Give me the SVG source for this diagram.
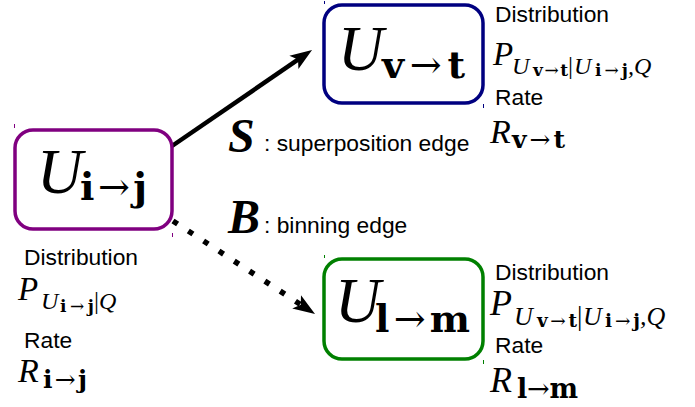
<svg xmlns="http://www.w3.org/2000/svg" width="695" height="407" viewBox="0 0 695 407">
<style>
.box{fill:#fff;stroke-width:3.5}
.mi{font-family:"Liberation Serif","Times New Roman",serif;font-style:italic;fill:#000}
.mb{font-family:"DejaVu Serif",serif;font-weight:bold;fill:#000}
.mr{font-family:"Liberation Serif","Times New Roman",serif;fill:#000}
.ar{font-weight:normal}
.lab{font-family:"Liberation Sans",Arial,sans-serif;font-size:22.8px;fill:#000}
.bi{font-family:"Liberation Serif","Times New Roman",serif;font-style:italic;font-weight:bold;font-size:48px;fill:#000}
.tick{stroke-width:1}
</style>
<defs>
<marker id="ah" viewBox="-10 -10 26 20" refX="0" refY="0" markerWidth="26" markerHeight="20" markerUnits="userSpaceOnUse" orient="auto">
<path d="M14,0 L-8,-8 L-3,0 L-8,8 Z" fill="#000"/>
</marker>
</defs>
<g id="connectors">
<line x1="172" y1="146" x2="300.5" y2="57.9" stroke="#000" stroke-width="4.5" marker-end="url(#ah)"/>
<line x1="173" y1="221" x2="303.3" y2="306.3" stroke="#000" stroke-width="5.5" stroke-dasharray="5.5 12.8" marker-end="url(#ah)"/>
<text class="bi" x="228" y="152">S</text>
<text class="lab" x="264" y="151">: superposition edge</text>
<text class="bi" x="228" y="233">B</text>
<text class="lab" x="264" y="233">: binning edge</text>
</g>
<g id="node-ij">
<rect class="box" x="15" y="130" width="157" height="99" rx="18" stroke="#800080"/>
<line class="tick" x1="14.5" y1="124" x2="14.5" y2="128" stroke="#800080"/>
<line class="tick" x1="172.5" y1="233" x2="172.5" y2="237" stroke="#800080"/>
<text class="mi" x="37" y="193" font-size="63">U</text>
<text class="mb" x="80" y="200" font-size="38" textLength="67" lengthAdjust="spacing">i<tspan class="ar">→</tspan>j</text>
<text class="lab" x="24" y="265">Distribution</text>
<text class="mi" x="18" y="300" font-size="33">P</text>
<text class="mi" x="41" y="309" font-size="24">U</text>
<text class="mb" x="60" y="312" font-size="17" textLength="34" lengthAdjust="spacing">i<tspan class="ar">→</tspan>j</text>
<text class="mr" x="94" y="309" font-size="25">|</text>
<text class="mi" x="99" y="309" font-size="24">Q</text>
<text class="lab" x="24" y="348">Rate</text>
<text class="mi" x="18" y="382" font-size="34">R</text>
<text class="mb" x="43" y="388" font-size="25" textLength="44" lengthAdjust="spacing">i<tspan class="ar">→</tspan>j</text>
</g>
<g id="node-vt">
<rect class="box" x="324" y="5" width="159" height="98" rx="18" stroke="#000080"/>
<line class="tick" x1="324.5" y1="1" x2="324.5" y2="4" stroke="#000080"/>
<line class="tick" x1="483.5" y1="104" x2="483.5" y2="108" stroke="#000080"/>
<text class="mi" x="338" y="70" font-size="63">U</text>
<text class="mb" x="382" y="78" font-size="38" textLength="83" lengthAdjust="spacing">v<tspan class="ar">→</tspan>t</text>
<text class="lab" x="495" y="22">Distribution</text>
<text class="mi" x="493" y="65" font-size="33">P</text>
<text class="mi" x="512" y="74" font-size="24">U</text>
<text class="mb" x="533" y="76" font-size="17" textLength="35" lengthAdjust="spacing">v<tspan class="ar">→</tspan>t</text>
<text class="mr" x="568" y="74" font-size="25">|</text>
<text class="mi" x="574" y="74" font-size="24">U</text>
<text class="mb" x="595" y="76" font-size="17" textLength="33" lengthAdjust="spacing">i<tspan class="ar">→</tspan>j</text>
<text class="mi" x="628" y="74" font-size="24">,Q</text>
<text class="lab" x="495" y="105">Rate</text>
<text class="mi" x="490" y="143" font-size="34">R</text>
<text class="mb" x="512" y="148" font-size="25" textLength="53" lengthAdjust="spacing">v<tspan class="ar">→</tspan>t</text>
</g>
<g id="node-lm">
<rect class="box" x="324" y="259" width="159" height="100" rx="18" stroke="#008000"/>
<line class="tick" x1="324.5" y1="255" x2="324.5" y2="258" stroke="#008000"/>
<line class="tick" x1="483.5" y1="360" x2="483.5" y2="364" stroke="#008000"/>
<text class="mi" x="335" y="322" font-size="63">U</text>
<text class="mb" x="375" y="332" font-size="38" textLength="95" lengthAdjust="spacing">l<tspan class="ar">→</tspan>m</text>
<text class="lab" x="495" y="280">Distribution</text>
<text class="mi" x="490" y="315" font-size="36">P</text>
<text class="mi" x="514" y="325" font-size="26">U</text>
<text class="mb" x="537" y="327" font-size="18.5" textLength="40" lengthAdjust="spacing">v<tspan class="ar">→</tspan>t</text>
<text class="mr" x="577" y="325" font-size="27">|</text>
<text class="mi" x="583" y="325" font-size="26">U</text>
<text class="mb" x="605" y="327" font-size="18.5" textLength="35" lengthAdjust="spacing">i<tspan class="ar">→</tspan>j</text>
<text class="mi" x="640" y="325" font-size="26">,Q</text>
<text class="lab" x="495" y="353">Rate</text>
<text class="mi" x="490" y="392" font-size="36">R</text>
<text class="mb" x="517" y="398" font-size="27" textLength="61" lengthAdjust="spacing">l<tspan class="ar">→</tspan>m</text>
</g>
</svg>
